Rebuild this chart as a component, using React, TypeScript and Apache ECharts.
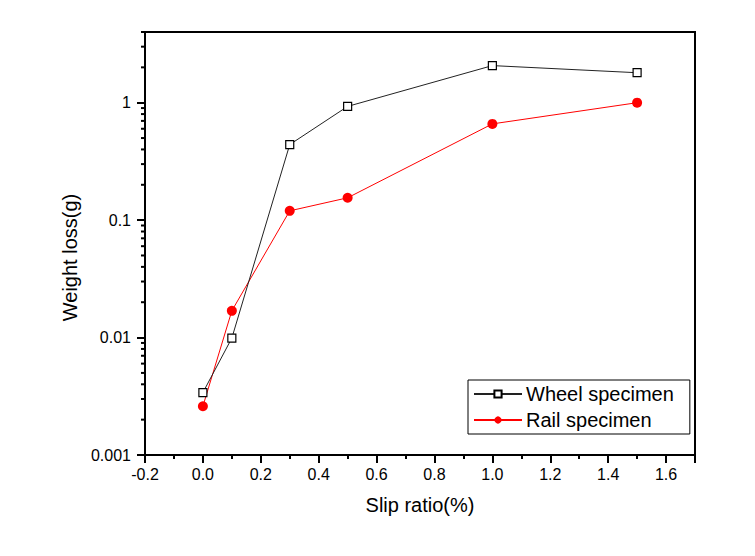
import React, { useEffect, useRef } from "react";
import * as echarts from "echarts";

const slipRatio = [0.0, 0.1, 0.3, 0.5, 1.0, 1.5];
const wheelLoss = [0.0034, 0.0099, 0.44, 0.93, 2.07, 1.8];
const railLoss = [0.0026, 0.0169, 0.12, 0.155, 0.66, 1.0];
const yMinorTicks = [
  0.002, 0.003, 0.004, 0.005, 0.006, 0.007, 0.008, 0.009,
  0.02, 0.03, 0.04, 0.05, 0.06, 0.07, 0.08, 0.09,
  0.2, 0.3, 0.4, 0.5, 0.6, 0.7, 0.8, 0.9,
  2, 3, 4,
];
const X_MIN = -0.2;
const X_MAX = 1.7;
const Y_MIN = 0.001;
const Y_MAX = 4;

const FONT = "Liberation Sans, Arial, sans-serif";

export default function App() {
  const ref = useRef<HTMLDivElement>(null);
  useEffect(() => {
    if (!ref.current) return;
    const chart = echarts.init(ref.current, null, { renderer: "svg" });
    chart.setOption({
      animation: false,
      backgroundColor: "#fff",
      grid: {
        left: 145,
        right: 60,
        top: 32,
        bottom: 101,
        show: true,
        borderColor: "#000",
        borderWidth: 2,
        containLabel: false,
      },
      legend: {
        data: ["Wheel specimen", "Rail specimen"],
        orient: "vertical",
        left: 468,
        top: 380,
        width: 225,
        itemWidth: 48,
        itemHeight: 9,
        itemGap: 6,
        padding: [4, 16, 4, 5],
        borderColor: "#000",
        borderWidth: 1,
        backgroundColor: "#fff",
        textStyle: { fontFamily: FONT, fontSize: 20, color: "#000", padding: [0, 0, 0, -1] },
      },
      xAxis: {
        type: "value",
        min: X_MIN,
        max: X_MAX,
        interval: 0.2,
        name: "Slip ratio(%)",
        nameLocation: "middle",
        nameGap: 40,
        nameTextStyle: { fontFamily: FONT, fontSize: 20, color: "#000" },
        axisLine: { show: true, onZero: false, lineStyle: { color: "#000", width: 2 } },
        axisTick: { show: true, inside: false, length: 8, lineStyle: { color: "#000", width: 2 } },
        minorTick: { show: true, splitNumber: 2, length: 4, lineStyle: { color: "#000", width: 2 } },
        splitLine: { show: false },
        axisLabel: {
          fontFamily: FONT,
          fontSize: 16,
          color: "#000",
          margin: 11,
          showMaxLabel: false,
          formatter: (v: number) => v.toFixed(1),
        },
      },
      yAxis: {
        type: "log",
        logBase: 10,
        min: Y_MIN,
        max: Y_MAX,
        name: "Weight loss(g)",
        nameLocation: "middle",
        nameGap: 64,
        nameTextStyle: { fontFamily: FONT, fontSize: 20, color: "#000", padding: [0, 28, 0, 0] },
        axisLine: { show: true, onZero: false, lineStyle: { color: "#000", width: 2 } },
        axisTick: { show: true, inside: false, length: 8, lineStyle: { color: "#000", width: 2 } },
        splitLine: { show: false },
        axisLabel: {
          fontFamily: FONT,
          fontSize: 16,
          color: "#000",
          margin: 14,
          showMaxLabel: false,
          formatter: (v: number) => {
            if (v >= 1) return String(Math.round(v));
            return String(parseFloat(v.toPrecision(1)));
          },
        },
      },
      series: [
        {
          name: "yMinor",
          type: "custom",
          clip: false,
          silent: true,
          data: yMinorTicks.map((v) => [X_MIN, v]),
          renderItem: (params: any, api: any) => {
            const p = api.coord([X_MIN, api.value(1)]);
            return {
              type: "line",
              shape: { x1: p[0] - 4, y1: p[1], x2: p[0], y2: p[1] },
              style: { stroke: "#000", lineWidth: 2 },
            };
          },
          z: 1,
        },
        {
          name: "Wheel specimen",
          type: "line",
          data: slipRatio.map((x, i) => [x, wheelLoss[i]]),
          symbol: "rect",
          symbolSize: 8,
          showAllSymbol: true,
          lineStyle: { color: "#222", width: 1 },
          itemStyle: { color: "#fff", borderColor: "#000", borderWidth: 1.2 },
          z: 3,
        },
        {
          name: "Rail specimen",
          type: "line",
          data: slipRatio.map((x, i) => [x, railLoss[i]]),
          symbol: "circle",
          symbolSize: 10,
          showAllSymbol: true,
          lineStyle: { color: "#ff0000", width: 1 },
          itemStyle: { color: "#ff0000", borderColor: "#ff0000", borderWidth: 0 },
          z: 2,
        },
      ],
    });
    return () => chart.dispose();
  }, []);
  return (
    <div
      ref={ref}
      style={{ position: "fixed", left: 0, top: 0, width: 755, height: 556 }}
    />
  );
}
